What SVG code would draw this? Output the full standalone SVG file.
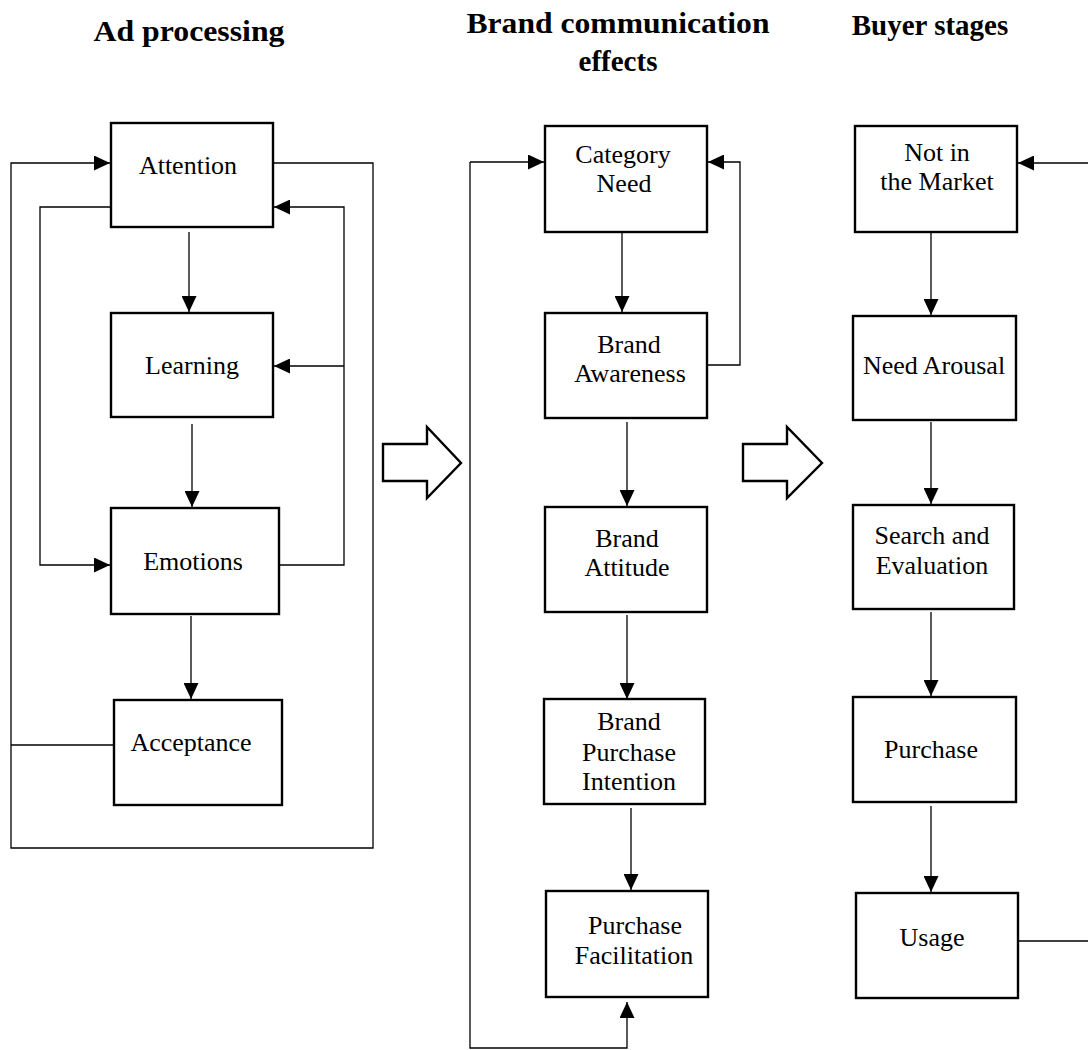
<svg xmlns="http://www.w3.org/2000/svg" width="1088" height="1050" viewBox="0 0 1088 1050">
<style>
.box{fill:#fff;stroke:#000;stroke-width:2.4}
.t{font-family:"Liberation Serif","Times New Roman",serif;font-size:26px;text-anchor:middle;fill:#000}
.h{font-family:"Liberation Serif","Times New Roman",serif;font-size:29px;font-weight:bold;text-anchor:middle;fill:#000}
.c{fill:none;stroke:#000;stroke-width:1.3}
.big{fill:#fff;stroke:#000;stroke-width:2.4;stroke-linejoin:miter}
</style>
<defs>
<marker id="ah" markerUnits="userSpaceOnUse" markerWidth="16" markerHeight="15" refX="16" refY="7.5" orient="auto">
<path d="M0,0 L16,7.5 L0,15 z" fill="#000"/>
</marker>
</defs>
<rect width="1088" height="1050" fill="#fff"/>
<g id="headers">
<text class="h" x="189" y="41" textLength="191" lengthAdjust="spacingAndGlyphs">Ad processing</text>
<text class="h" x="618" y="33" textLength="303" lengthAdjust="spacingAndGlyphs">Brand communication</text>
<text class="h" x="618" y="71">effects</text>
<text class="h" x="930" y="35">Buyer stages</text>
</g>
<g id="connectors">
<path class="c" d="M273,163 H373 V848 H11 V163 H110" marker-end="url(#ah)"/>
<path class="c" d="M114,745 H11"/>
<path class="c" d="M111,207 H40 V565 H110" marker-end="url(#ah)"/>
<path class="c" d="M280,565 H344 V207 H274" marker-end="url(#ah)"/>
<path class="c" d="M344,366 H274" marker-end="url(#ah)"/>
<path class="c" d="M189,232 V312" marker-end="url(#ah)"/>
<path class="c" d="M192,424 V507" marker-end="url(#ah)"/>
<path class="c" d="M191,616 V699" marker-end="url(#ah)"/>
<path class="c" d="M470,162 H544" marker-end="url(#ah)"/>
<path class="c" d="M470,162 V1048 H627 V1002" marker-end="url(#ah)"/>
<path class="c" d="M707,365 H740 V162 H708" marker-end="url(#ah)"/>
<path class="c" d="M622,232 V312" marker-end="url(#ah)"/>
<path class="c" d="M627,422 V506" marker-end="url(#ah)"/>
<path class="c" d="M627,615 V699" marker-end="url(#ah)"/>
<path class="c" d="M631,808 V890" marker-end="url(#ah)"/>
<path class="c" d="M1088,163 H1018" marker-end="url(#ah)"/>
<path class="c" d="M1018,941 H1088"/>
<path class="c" d="M931,232 V315" marker-end="url(#ah)"/>
<path class="c" d="M931,422 V504" marker-end="url(#ah)"/>
<path class="c" d="M931,612 V696" marker-end="url(#ah)"/>
<path class="c" d="M931,806 V892" marker-end="url(#ah)"/>
</g>
<g id="arrow1"><polygon class="big" points="383,444 427,444 427,427 461,463 427,498 427,481 383,481"/></g>
<g id="arrow2"><polygon class="big" points="743,444 787,444 787,427 822,463 787,498 787,481 743,481"/></g>
<g id="attention"><rect class="box" x="111" y="123" width="162" height="104"/><text class="t" x="188" y="174">Attention</text></g>
<g id="learning"><rect class="box" x="111" y="313" width="162" height="104"/><text class="t" x="192" y="374">Learning</text></g>
<g id="emotions"><rect class="box" x="111" y="508" width="168" height="106"/><text class="t" x="193" y="570">Emotions</text></g>
<g id="acceptance"><rect class="box" x="114" y="700" width="168" height="105"/><text class="t" x="191" y="751">Acceptance</text></g>
<g id="category-need"><rect class="box" x="545" y="126" width="162" height="106"/><text class="t" x="623" y="163">Category</text><text class="t" x="624" y="192">Need</text></g>
<g id="brand-awareness"><rect class="box" x="545" y="313" width="162" height="105"/><text class="t" x="629" y="353">Brand</text><text class="t" x="630" y="382">Awareness</text></g>
<g id="brand-attitude"><rect class="box" x="545" y="507" width="162" height="105"/><text class="t" x="627" y="547">Brand</text><text class="t" x="627" y="576">Attitude</text></g>
<g id="brand-purchase-intention"><rect class="box" x="544" y="699" width="161" height="105"/><text class="t" x="629" y="730">Brand</text><text class="t" x="629" y="761">Purchase</text><text class="t" x="629" y="790">Intention</text></g>
<g id="purchase-facilitation"><rect class="box" x="546" y="891" width="162" height="106"/><text class="t" x="635" y="934">Purchase</text><text class="t" x="634" y="964">Facilitation</text></g>
<g id="not-in-market"><rect class="box" x="855" y="126" width="162" height="106"/><text class="t" x="937" y="161">Not in</text><text class="t" x="937" y="190">the Market</text></g>
<g id="need-arousal"><rect class="box" x="853" y="316" width="163" height="104"/><text class="t" x="934" y="374">Need Arousal</text></g>
<g id="search-evaluation"><rect class="box" x="853" y="505" width="161" height="104"/><text class="t" x="932" y="544">Search and</text><text class="t" x="932" y="574">Evaluation</text></g>
<g id="purchase"><rect class="box" x="853" y="697" width="163" height="105"/><text class="t" x="931" y="758">Purchase</text></g>
<g id="usage"><rect class="box" x="856" y="893" width="162" height="105"/><text class="t" x="932" y="946">Usage</text></g>
</svg>
